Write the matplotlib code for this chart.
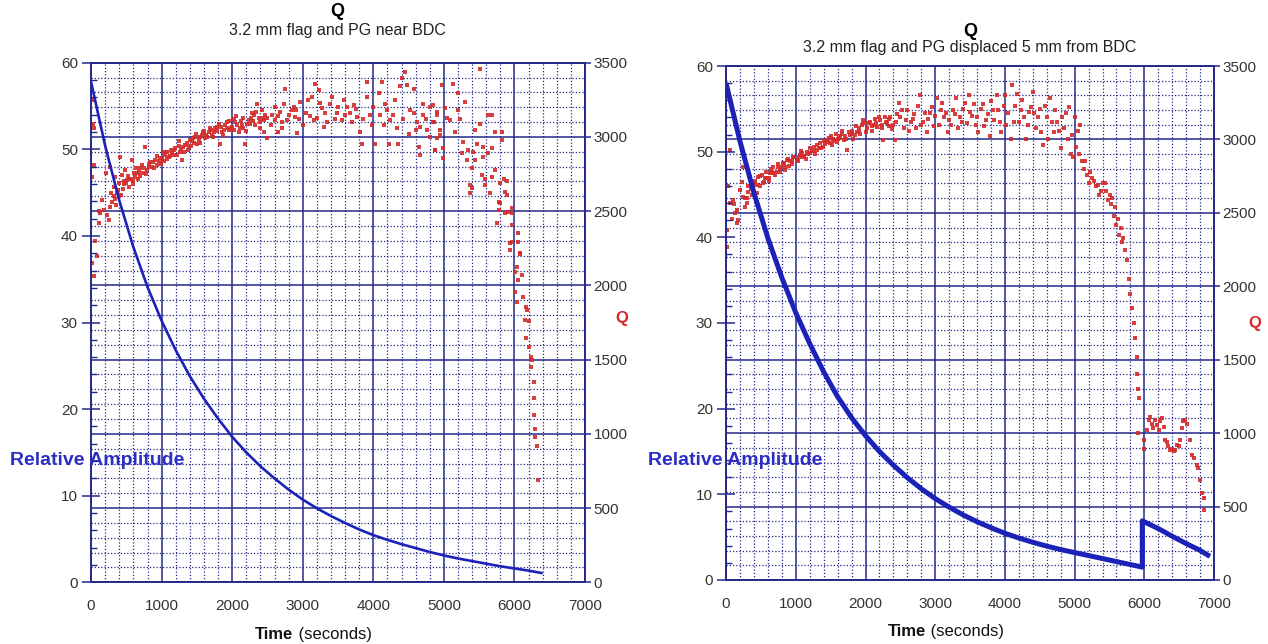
import matplotlib
matplotlib.use('Agg')
import matplotlib.pyplot as plt
from matplotlib.ticker import MultipleLocator

plt.rcParams['font.family'] = ['Liberation Sans', 'DejaVu Sans']

NAVY = '#25288a'
BLUE = '#1c22b8'
RED = '#d42a2a'
TXT = '#333333'

# ---- data ----
# relative amplitude, left run
amp_t_left = [0, 200, 400, 600, 800, 1000, 1200, 1400, 1600, 1800, 2000, 2200,
              2400, 2600, 2800, 3000, 3200, 3400, 3600, 3800, 4000, 4200, 4400,
              4600, 4800, 5000, 5200, 5400, 5600, 5800, 6000, 6200, 6400]
amp_left = [57.8, 50.4, 44.1, 38.7, 34.1, 30.2, 26.8, 23.8, 21.2, 18.9, 16.8, 15.0,
            13.4, 12.0, 10.7, 9.55, 8.55, 7.65, 6.85, 6.1, 5.45, 4.9, 4.4,
            3.95, 3.5, 3.1, 2.75, 2.45, 2.15, 1.85, 1.6, 1.35, 1.05]

# Q, left run (time, Q)
q_left = [
    (15, 3250), (25, 3090), (35, 3060), (15, 2730), (35, 2810), (20, 2150), (45, 2060),
    (110, 2500), (130, 2485), (60, 2300), (85, 2200), (110, 2420), (180, 2510),
    (225, 2475), (275, 2530), (250, 2440), (155, 2575), (205, 2755), (275, 2800),
    (320, 2665), (345, 2730), (370, 2620), (390, 2690), (415, 2865), (440, 2745),
    (485, 2775), (510, 2710), (535, 2665), (580, 2845), (605, 2755), (630, 2790),
    (675, 2765), (720, 2810), (770, 2935), (795, 2775), (815, 2820), (865, 2800),
    (910, 2845), (960, 2835), (1005, 2855), (1050, 2880), (1100, 2865), (1145, 2890),
    (1195, 2925), (1240, 2970), (1265, 2900), (1290, 2845), (1335, 2945), (1385, 2935),
    (1430, 2970), (1475, 3000), (1525, 2980), (1570, 3015), (1620, 2990), (1665, 3035),
    (1715, 3015), (1760, 3060), (1810, 3090), (1830, 2955), (1855, 3035), (1900, 3080),
    (1950, 3045), (2000, 3070), (2045, 3100), (2090, 3035), (2140, 3080), (2185, 2955),
    (2235, 3115), (2280, 3160), (2330, 3080), (2350, 3225), (2375, 3125), (2420, 3180),
    (2445, 3035),
    (300, 2560), (330, 2600), (360, 2540), (400, 2600), (450, 2650), (470, 2700),
    (520, 2740), (560, 2720), (600, 2700), (650, 2760), (700, 2740), (750, 2790),
    (820, 2800), (880, 2830), (930, 2810), (980, 2860), (1030, 2840), (1080, 2900),
    (1120, 2870), (1170, 2910), (1220, 2880), (1310, 2930), (1360, 2960), (1410, 2940),
    (1450, 2990), (1500, 2950), (1550, 3000), (1600, 3040), (1650, 3000), (1700, 3050),
    (1740, 3030), (1790, 3070), (1880, 3050), (1920, 3100), (1980, 3060), (2020, 3120),
    (2070, 3080), (2120, 3110), (2160, 3060), (2210, 3090), (2260, 3130), (2310, 3150),
    (2400, 3100), (2460, 3150),
    (280, 2620), (340, 2580), (380, 2640), (430, 2610), (460, 2680), (500, 2690),
    (540, 2720), (590, 2680), (620, 2730), (660, 2720), (690, 2790), (740, 2760),
    (780, 2750), (840, 2830), (890, 2790), (940, 2870), (990, 2820), (1040, 2900),
    (1070, 2850), (1130, 2910), (1180, 2880), (1250, 2940), (1280, 2920), (1320, 2900),
    (1370, 2910), (1400, 2980), (1460, 2960), (1490, 3020), (1540, 2960), (1580, 3030),
    (1630, 3010), (1680, 3060), (1730, 3000), (1780, 3040), (1840, 3070), (1870, 3010),
    (1930, 3060), (1960, 3110), (2030, 3050), (2060, 3140), (2110, 3060), (2150, 3130),
    (2200, 3040), (2250, 3090), (2290, 3110), (2340, 3170), (2390, 3060), (2430, 3130),
    (2445, 3115), (2495, 3125), (2565, 3150), (2610, 3115), (2680, 3170), (2730, 3225),
    (2750, 3325), (2775, 3115), (2845, 3180), (2870, 3205), (2895, 3135), (2495, 2990),
    (2655, 3035), (2705, 3060), (2920, 3025), (2965, 3235), (3010, 3080), (3080, 3250),
    (3130, 3270), (3175, 3360), (3225, 3315), (3270, 3195), (3155, 3115), (3295, 3070),
    (3340, 3100), (3390, 3225), (3415, 3270), (3485, 3160), (3555, 3115), (3580, 3250),
    (3625, 3205), (3675, 3160), (3720, 3215), (3765, 3135), (3815, 3035), (3840, 2955),
    (3910, 3370), (3910, 3270), (3980, 3080), (4025, 2955), (4075, 3295), (4120, 3370),
    (4170, 3225), (4215, 2955), (4240, 3115), (4285, 3150), (4335, 3060), (4380, 3340),
    (4405, 3395), (4450, 3440), (4475, 3350), (4570, 3325), (4525, 3180), (4570, 3160),
    (4615, 3100), (4665, 3070), (4710, 3225), (4760, 3045), (4805, 3000), (4855, 3100),
    (4875, 2910), (4665, 2880), (4640, 2935), (4355, 2955),
    (2550, 3080), (2600, 3200), (2650, 3140), (2700, 3100), (2800, 3150), (2900, 3180),
    (2950, 3120), (3050, 3160), (3100, 3140), (3200, 3130), (3250, 3230), (3320, 3160),
    (3450, 3120), (3500, 3200), (3600, 3150), (3700, 3100), (3750, 3190), (3850, 3120),
    (3950, 3150), (4000, 3200), (4100, 3150), (4150, 3080), (4200, 3180), (4300, 3250),
    (4420, 3120), (4500, 3020), (4600, 3050), (4700, 3150), (4750, 3120), (4800, 3200),
    (4900, 3150), (4950, 3050),
    (5515, 3460), (5135, 3360), (4970, 3350), (5205, 3295), (5300, 3235), (4850, 3215),
    (5020, 3195), (4900, 3170), (5205, 3180), (5630, 3150), (5680, 3150), (5040, 3125),
    (5090, 3115), (4850, 3100), (5230, 3120), (5515, 3090), (5445, 3045), (5725, 3035),
    (5820, 3035), (5160, 3035), (4950, 3015), (4900, 2990), (5820, 2980), (5275, 2965),
    (5465, 2955), (5560, 2935), (5680, 2925), (4990, 2925), (4875, 2910), (5345, 2910),
    (5415, 2900), (5255, 2890), (5630, 2890), (5560, 2865), (5325, 2845), (5445, 2845),
    (4990, 2860), (5395, 2790), (5725, 2775), (5540, 2745), (5680, 2730), (5585, 2720),
    (5845, 2720), (5890, 2700), (5370, 2675), (5585, 2675), (5795, 2690), (5395, 2655),
    (5870, 2630), (5370, 2620), (5655, 2620), (5890, 2610), (5775, 2565), (5795, 2555),
    (5775, 2510), (5870, 2485), (5965, 2520), (5915, 2495), (5965, 2485), (5750, 2420),
    (5965, 2405), (6055, 2350), (5965, 2295), (5940, 2285), (6055, 2295), (5940, 2240),
    (6080, 2215),
    (6080, 2210), (6035, 2125), (6010, 2090), (6105, 2070), (6050, 2035), (6010, 1955),
    (6125, 1925), (6035, 1890), (6160, 1855), (6175, 1835), (6150, 1765), (6200, 1760),
    (6165, 1645), (6210, 1585), (6230, 1520), (6245, 1495), (6230, 1450), (6270, 1350),
    (6270, 1240), (6270, 1125), (6295, 1035), (6295, 980), (6315, 915), (6340, 690),
]

# relative amplitude, right run (jump where the drive was re-applied)
amp_t_right = [0, 200, 400, 600, 800, 1000, 1200, 1400, 1600, 1800, 2000, 2200,
               2400, 2600, 2800, 3000, 3200, 3400, 3600, 3800, 4000, 4200, 4400,
               4600, 4800, 5000, 5200, 5400, 5600, 5800, 5970,
               5970, 6200, 6400, 6600, 6800, 6940]
amp_right = [58.0, 51.2, 45.2, 39.9, 35.3, 31.2, 27.6, 24.3, 21.4, 18.95, 16.85, 15.0,
             13.4, 11.95, 10.65, 9.5, 8.5, 7.6, 6.8, 6.1, 5.45, 4.9, 4.4,
             3.95, 3.55, 3.2, 2.85, 2.5, 2.15, 1.8, 1.5,
             6.9, 6.0, 5.1, 4.25, 3.45, 2.75]

# Q, right run (time, Q)
q_right = [
    (55, 2930), (35, 2680), (55, 2565), (105, 2590), (130, 2500), (155, 2430),
    (175, 2450), (10, 2385), (10, 2270), (200, 2655), (225, 2710), (250, 2815),
    (250, 2610), (275, 2540), (295, 2565), (320, 2645), (345, 2745), (390, 2690),
    (440, 2635), (465, 2745), (510, 2760), (535, 2700), (585, 2735), (630, 2770),
    (680, 2815), (725, 2780), (750, 2835), (800, 2815), (845, 2790), (870, 2860),
    (920, 2850), (965, 2880), (1015, 2860), (1060, 2895), (1110, 2880), (1160, 2915),
    (1205, 2905), (1255, 2950), (1300, 2930), (1350, 2975), (1395, 2950), (1445, 2995),
    (1490, 2975), (1540, 3005), (1590, 2985), (1635, 3020), (1685, 2995), (1730, 2930),
    (1780, 3030), (1825, 3005), (1875, 3050), (1925, 3040), (1970, 3110), (2020, 3075),
    (2065, 3120), (2115, 3100), (2160, 3085), (2210, 3130), (2255, 2995), (2305, 3110),
    (2355, 3155), (2400, 3100), (2425, 2995), (2450, 3175), (2475, 3245), (1970, 3130),
    (80, 2460), (120, 2560), (160, 2520), (300, 2600), (360, 2660), (420, 2700),
    (480, 2680), (560, 2740), (610, 2720), (660, 2780), (700, 2760), (780, 2800),
    (830, 2830), (900, 2820), (950, 2850), (1040, 2880), (1090, 2910), (1140, 2870),
    (1230, 2920), (1280, 2900), (1330, 2940), (1420, 2970), (1470, 3010), (1520, 2960),
    (1610, 3000), (1660, 3040), (1710, 3020), (1800, 3060), (1850, 3030), (1900, 3080),
    (2000, 3050), (2090, 3090), (2140, 3140), (2230, 3100), (2280, 3150), (2330, 3090),
    (270, 2600), (320, 2680), (370, 2620), (410, 2720), (450, 2690), (490, 2750),
    (540, 2710), (570, 2780), (620, 2740), (650, 2800), (690, 2770), (740, 2810),
    (770, 2780), (810, 2840), (860, 2810), (890, 2870), (940, 2830), (980, 2880),
    (1030, 2850), (1070, 2920), (1120, 2890), (1170, 2900), (1210, 2940), (1260, 2920),
    (1310, 2960), (1360, 2940), (1400, 2990), (1460, 2980), (1500, 3020), (1550, 2990),
    (1580, 3040), (1620, 3010), (1670, 3060), (1720, 3000), (1760, 3050), (1810, 3040),
    (1860, 3090), (1910, 3060), (1950, 3100), (2040, 3110), (2100, 3060), (2150, 3110),
    (2190, 3150), (2240, 3080), (2290, 3120), (2340, 3140), (2380, 3070), (2440, 3120),
    (2500, 3150), (2550, 3080), (2600, 3200), (2650, 3120), (2700, 3170), (2750, 3230),
    (2800, 3100), (2850, 3180), (2900, 3140), (2950, 3220), (3000, 3160), (3050, 3100),
    (3100, 3250), (3150, 3180), (3200, 3130), (3250, 3200), (3300, 3280), (3350, 3150),
    (3400, 3210), (3450, 3110), (3500, 3190), (3550, 3240), (3600, 3150), (3650, 3210),
    (3700, 3090), (3750, 3170), (3800, 3260), (3850, 3130), (3900, 3200), (3950, 3050),
    (4000, 3300), (4050, 3180), (4100, 3370), (4150, 3230), (4200, 3120), (4250, 3270),
    (4300, 3000), (4350, 3190), (4400, 3320), (4450, 3080), (4500, 3210), (4550, 2960),
    (4600, 3150), (4650, 3280), (4700, 3050), (4750, 3120), (4800, 2940), (4850, 3080),
    (4900, 3000), (4950, 2900), (5000, 3150), (5050, 3060), (5100, 2850), (5130, 2800),
    (5170, 2760), (5200, 2700), (5250, 2740), (5300, 2680), (5350, 2620), (5400, 2700),
    (5450, 2650), (5480, 2590), (5520, 2560), (5560, 2480), (5600, 2420), (5640, 2350),
    (5680, 2300), (5720, 2250), (5750, 2180), (5780, 2050), (5800, 1950), (5820, 1850),
    (5850, 1750), (5870, 1650), (5890, 1520), (5900, 1400), (5910, 1300), (5920, 1240),
    (2620, 3060), (2780, 3300), (2880, 3050), (3020, 3280), (3180, 3050), (3320, 3080),
    (3480, 3300), (3620, 3050), (3780, 3020), (3880, 3300), (4020, 3100), (4080, 3000),
    (4180, 3310), (4280, 3150), (4420, 3180), (4520, 3050), (4620, 3000), (4720, 3200),
    (4820, 3150), (4920, 3220), (5020, 2950), (5080, 3100), (4980, 2880),
    (2520, 3200), (2580, 3130), (2680, 3140), (2730, 3080), (2830, 3120), (2930, 3180),
    (2980, 3090), (3080, 3200), (3130, 3150), (3230, 3100), (3280, 3170), (3380, 3120),
    (3430, 3250), (3530, 3160), (3580, 3100), (3680, 3240), (3730, 3130), (3830, 3200),
    (3930, 3120), (3980, 3230), (4130, 3120), (4230, 3200), (4330, 3100), (4380, 3220),
    (4480, 3150), (4580, 3230), (4680, 3120), (4780, 3060), (4880, 3180), (4960, 3030),
    (5060, 2900), (5150, 2850), (5220, 2780), (5280, 2720), (5330, 2690), (5380, 2650),
    (5430, 2700), (5500, 2620), (5540, 2600), (5580, 2540), (5620, 2460), (5660, 2400),
    (5700, 2330),
    (5915, 1000), (5990, 955), (5990, 895), (6035, 1020), (6060, 1090), (6085, 1110),
    (6110, 1065), (6130, 1035), (6155, 1090), (6180, 1055), (6205, 1020), (6225, 1080),
    (6250, 1100), (6275, 1045), (6300, 955), (6325, 940), (6345, 910), (6370, 885),
    (6395, 895), (6420, 875), (6440, 885), (6465, 920), (6490, 910), (6515, 955),
    (6540, 1035), (6560, 1080), (6585, 1090), (6610, 1065), (6655, 955), (6680, 850),
    (6705, 830), (6755, 785), (6775, 760), (6800, 680), (6825, 590), (6850, 555),
    (6850, 475),
]

fig = plt.figure(figsize=(12.68, 6.44), dpi=100)


def panel(rect, amp_t, amp, q_pts, lw):
    ax = fig.add_axes(rect)
    ax2 = ax.twinx()
    # Q axis (with its grid and the scatter) sits under the amplitude axis
    ax2.set_zorder(0)
    ax.set_zorder(1)
    ax.patch.set_visible(False)

    ax.set_xlim(0, 7000)
    ax.set_ylim(0, 60)
    ax2.set_ylim(0, 3500)
    ax.xaxis.set_major_locator(MultipleLocator(1000))
    ax.xaxis.set_minor_locator(MultipleLocator(200))
    ax.yaxis.set_major_locator(MultipleLocator(10))
    ax.yaxis.set_minor_locator(MultipleLocator(2))
    ax2.yaxis.set_major_locator(MultipleLocator(500))
    ax2.yaxis.set_minor_locator(MultipleLocator(100))

    ax2.xaxis.set_visible(True)
    ax2.tick_params(axis='x', which='both', bottom=False, top=False,
                    labelbottom=False, labeltop=False)
    ax2.set_axisbelow(True)
    ax2.grid(True, which='major', color=NAVY, lw=1.1)
    ax2.grid(True, which='minor', color=NAVY, lw=0.9, linestyle=(0, (1, 1.6)))

    ax2.plot([p[0] for p in q_pts], [p[1] for p in q_pts], 's', ms=2.3,
             color=RED, mew=0, alpha=0.9)
    ax.plot(amp_t, amp, color=BLUE, lw=lw, solid_capstyle='butt',
            solid_joinstyle='round')

    for a in (ax, ax2):
        for s in a.spines.values():
            s.set_color(NAVY)
            s.set_linewidth(1.2)

    ax.tick_params(axis='y', which='major', direction='inout', length=13, width=1.1,
                   color=NAVY, labelsize=11, labelcolor=TXT, pad=3)
    ax.tick_params(axis='y', which='minor', direction='in', length=4, width=1,
                   color=NAVY)
    ax.tick_params(axis='x', which='both', length=0, labelsize=11,
                   labelcolor=TXT, pad=12)
    ax2.tick_params(axis='y', which='major', direction='out', length=4.5, width=1.1,
                    color=NAVY, labelsize=11, labelcolor=TXT, pad=1.5)
    ax2.tick_params(axis='y', which='minor', length=0)

    # x label: bold "Time" + normal "(seconds)"
    ax.text(0.41, -0.1, 'Time', transform=ax.transAxes, ha='right', va='center',
            fontsize=12, fontweight='bold', color='#111111')
    ax.text(0.41, -0.1, ' (seconds)', transform=ax.transAxes, ha='left',
            va='center', fontsize=12, color='#111111')
    return ax, ax2


panel([0.0718, 0.0958, 0.3896, 0.8068], amp_t_left, amp_left, q_left, 1.9)
panel([0.5726, 0.0994, 0.3849, 0.7981], amp_t_right, amp_right, q_right, 3.6)

# titles
fig.text(0.266, 0.982, 'Q', ha='center', va='center', fontsize=13, fontweight='bold')
fig.text(0.266, 0.953, '3.2 mm flag and PG near BDC', ha='center', va='center',
         fontsize=11.5, color='#222222')
fig.text(0.765, 0.951, 'Q', ha='center', va='center', fontsize=13, fontweight='bold')
fig.text(0.765, 0.926, '3.2 mm flag and PG displaced 5 mm from BDC', ha='center',
         va='center', fontsize=11.5, color='#222222')

# axis names
for x in (0.0079, 0.511):
    fig.text(x, 0.2857, 'Relative Amplitude', ha='left', va='center', fontsize=14,
             fontweight='bold', color='#2a2ec4')
fig.text(0.4905, 0.506, 'Q', ha='center', va='center', fontsize=12,
         fontweight='bold', color=RED)
fig.text(0.9897, 0.498, 'Q', ha='center', va='center', fontsize=12,
         fontweight='bold', color=RED)

fig.savefig('out.png', dpi=100, facecolor='white')
